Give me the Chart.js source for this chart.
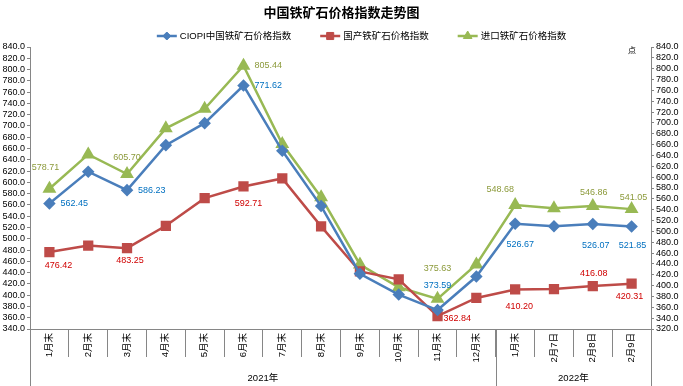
<!DOCTYPE html>
<html lang="zh-CN">
<head>
<meta charset="UTF-8">
<title>中国铁矿石价格指数走势图</title>
<script src="https://cdn.jsdelivr.net/npm/chart.js@4.4.1/dist/chart.umd.min.js"></script>
<style>
    html, body { margin: 0; padding: 0; background: #fff; }
    #wrap { width: 683px; height: 386px; }
</style>
</head>
<body>
<div id="wrap"><canvas id="chart"></canvas></div>
<script>
    var categories = ['1月末', '2月末', '3月末', '4月末', '5月末', '6月末', '7月末', '8月末', '9月末', '10月末', '11月末', '12月末',
        '1月末', '2月7日', '2月8日', '2月9日'];
    var yearLabels = ['2021年', '2022年'];
    var yearStarts = [0, 12];

    var ciopi    = [562.45, 619, 586.23, 666, 705, 771.62, 656, 558, 438, 401, 373.59, 433, 526.67, 522.0, 526.07, 521.85];
    var domestic = [476.42, 488, 483.25, 523, 572, 592.71, 607, 522, 442, 428, 362.84, 395, 410.20, 410.8, 416.08, 420.31];
    var imported = [578.71, 642, 605.70, 690, 726, 805.44, 661, 563, 439, 397, 375.63, 439, 548.68, 542.6, 546.86, 541.05];

    var leftRange = [340, 840];
    var rightRange = [320, 840];
    var tickStep = 20;

    var FONT = "'Liberation Sans', 'Noto Sans CJK SC', sans-serif";

    // which points carry a value label, and where it sits: [dx, dy, align]
    var labelSpots = [
        {0: [11, 0, 'left'], 2: [11, 0, 'left'], 5: [11, 0, 'left'], 10: [0, -25, 'center'], 12: [5, 21, 'center'], 14: [3, 21, 'center'], 15: [1, 19, 'center']},
        {0: [9, 13, 'center'], 2: [3, 12, 'center'], 5: [5, 17, 'center'], 10: [6, 2, 'left'], 12: [4, 17, 'center'], 14: [1, -13, 'center'], 15: [-2, 13, 'center']},
        {0: [-4, -21, 'center'], 2: [0, -17, 'center'], 5: [11, 0, 'left'], 10: [0, -30, 'center'], 12: [-15, -15, 'center'], 14: [1, -13, 'center'], 15: [2, -12, 'center']}
    ];
    var labelColors = ['#0070C0', '#D00000', '#8C9A3B'];

    var pointLabels = {
        id: 'pointLabels',
        afterDatasetsDraw: function (chart) {
            var ctx = chart.ctx;
            ctx.save();
            ctx.font = '9px ' + FONT;
            ctx.textBaseline = 'middle';
            chart.data.datasets.forEach(function (ds, di) {
                var meta = chart.getDatasetMeta(di);
                var spots = labelSpots[di];
                ctx.fillStyle = labelColors[di];
                Object.keys(spots).forEach(function (k) {
                    var p = meta.data[k];
                    var s = spots[k];
                    ctx.textAlign = s[2];
                    ctx.fillText(ds.data[k].toFixed(2), p.x + s[0], p.y + s[1]);
                });
            });
            ctx.restore();
        }
    };

    var extras = {
        id: 'extras',
        afterDraw: function (chart) {
            var ctx = chart.ctx;
            var area = chart.chartArea;
            var x = chart.scales.x;
            var h = chart.height;
            ctx.save();

            // year group lines and labels under the category axis
            ctx.strokeStyle = '#868686';
            ctx.lineWidth = 1;
            var edges = yearStarts.map(function (i) {
                return i === 0 ? area.left : (x.getPixelForValue(i - 1) + x.getPixelForValue(i)) / 2;
            });
            edges.push(area.right);
            ctx.beginPath();
            edges.forEach(function (ex) {
                var px = Math.round(ex) + 0.5;
                ctx.moveTo(px, area.bottom);
                ctx.lineTo(px, h);
            });
            ctx.stroke();
            ctx.fillStyle = '#000';
            ctx.font = '9.5px ' + FONT;
            ctx.textAlign = 'center';
            ctx.textBaseline = 'middle';
            yearLabels.forEach(function (t, i) {
                ctx.fillText(t, (edges[i] + edges[i + 1]) / 2, h - 8);
            });

            // unit mark at the top of the right axis
            ctx.font = '8px ' + FONT;
            ctx.fillText('点', area.right - 19, area.top + 4);

            // legend: line with marker, then text
            ctx.font = '9.5px ' + FONT;
            ctx.textAlign = 'left';
            var sets = chart.data.datasets;
            var widths = sets.map(function (ds) { return 23 + ctx.measureText(ds.label).width; });
            var total = widths.reduce(function (a, b) { return a + b; }, 0) + 29 * (sets.length - 1);
            var lx = chart.width / 2 + 20 - total / 2;
            var ly = 36;
            sets.forEach(function (ds, i) {
                ctx.strokeStyle = ds.borderColor;
                ctx.lineWidth = 2.5;
                ctx.beginPath();
                ctx.moveTo(lx, ly);
                ctx.lineTo(lx + 20, ly);
                ctx.stroke();
                ctx.fillStyle = ds.pointBackgroundColor;
                ctx.strokeStyle = ds.borderColor;
                ctx.lineWidth = 1;
                Chart.helpers.drawPoint(ctx, {pointStyle: ds.pointStyle, radius: ds.pointRadius - 0.5, rotation: 0, borderWidth: 1}, lx + 10, ly);
                ctx.fillStyle = '#000';
                ctx.fillText(ds.label, lx + 23, ly + 0.5);
                lx += widths[i] + 29;
            });
            ctx.restore();
        }
    };

    var ctx = document.getElementById('chart').getContext('2d');
    var theChart = new Chart(ctx, {
        type: 'line',
        data: {
            labels: categories,
            datasets: [{
                label: 'CIOPI中国铁矿石价格指数',
                data: ciopi,
                yAxisID: 'y',
                borderColor: '#4A7EBB',
                pointBackgroundColor: '#4A7EBB',
                pointBorderColor: '#4A7EBB',
                borderWidth: 2.5,
                pointStyle: 'rectRot',
                pointRadius: 4.5,
                tension: 0
            }, {
                label: '国产铁矿石价格指数',
                data: domestic,
                yAxisID: 'y',
                borderColor: '#BE4B48',
                pointBackgroundColor: '#BE4B48',
                pointBorderColor: '#BE4B48',
                borderWidth: 2.5,
                pointStyle: 'rect',
                pointRadius: 5.5,
                tension: 0
            }, {
                label: '进口铁矿石价格指数',
                data: imported,
                yAxisID: 'y2',
                borderColor: '#98B954',
                pointBackgroundColor: '#98B954',
                pointBorderColor: '#98B954',
                borderWidth: 2.5,
                pointStyle: 'triangle',
                pointRadius: 5.5,
                tension: 0
            }]
        },
        options: {
            responsive: true,
            maintainAspectRatio: false,
            animation: false,
            devicePixelRatio: 1,
            layout: {padding: 0},
            plugins: {
                legend: {display: false},
                tooltip: {enabled: false},
                title: {
                    display: true,
                    text: '中国铁矿石价格指数走势图',
                    color: '#000',
                    font: {size: 13, weight: 'bold', family: FONT},
                    padding: {top: 6, bottom: 25.4}
                }
            },
            scales: {
                x: {
                    offset: true,
                    grid: {offset: true, drawOnChartArea: false, tickLength: 28, color: '#868686'},
                    border: {color: '#868686'},
                    ticks: {
                        autoSkip: false, minRotation: 90, maxRotation: 90, padding: -24,
                        color: '#000', font: {size: 9.5, family: FONT}
                    },
                    afterFit: function (s) { s.height = 57; }
                },
                y: {
                    position: 'left',
                    min: leftRange[0],
                    max: leftRange[1],
                    grid: {drawOnChartArea: false, tickLength: 3, color: '#868686'},
                    border: {color: '#868686'},
                    ticks: {
                        stepSize: tickStep, autoSkip: false, padding: 2, color: '#000',
                        font: {size: 9, family: FONT},
                        callback: function (v) { return v.toFixed(1); }
                    },
                    afterFit: function (s) { s.width = 30; }
                },
                y2: {
                    position: 'right',
                    min: rightRange[0],
                    max: rightRange[1],
                    grid: {drawOnChartArea: false, tickLength: 3, color: '#868686'},
                    border: {color: '#868686'},
                    ticks: {
                        stepSize: tickStep, autoSkip: false, padding: 2, color: '#000',
                        font: {size: 9, family: FONT},
                        callback: function (v) { return v.toFixed(1); }
                    },
                    afterFit: function (s) { s.width = 32; }
                }
            }
        },
        plugins: [pointLabels, extras]
    });
</script>
</body>
</html>
